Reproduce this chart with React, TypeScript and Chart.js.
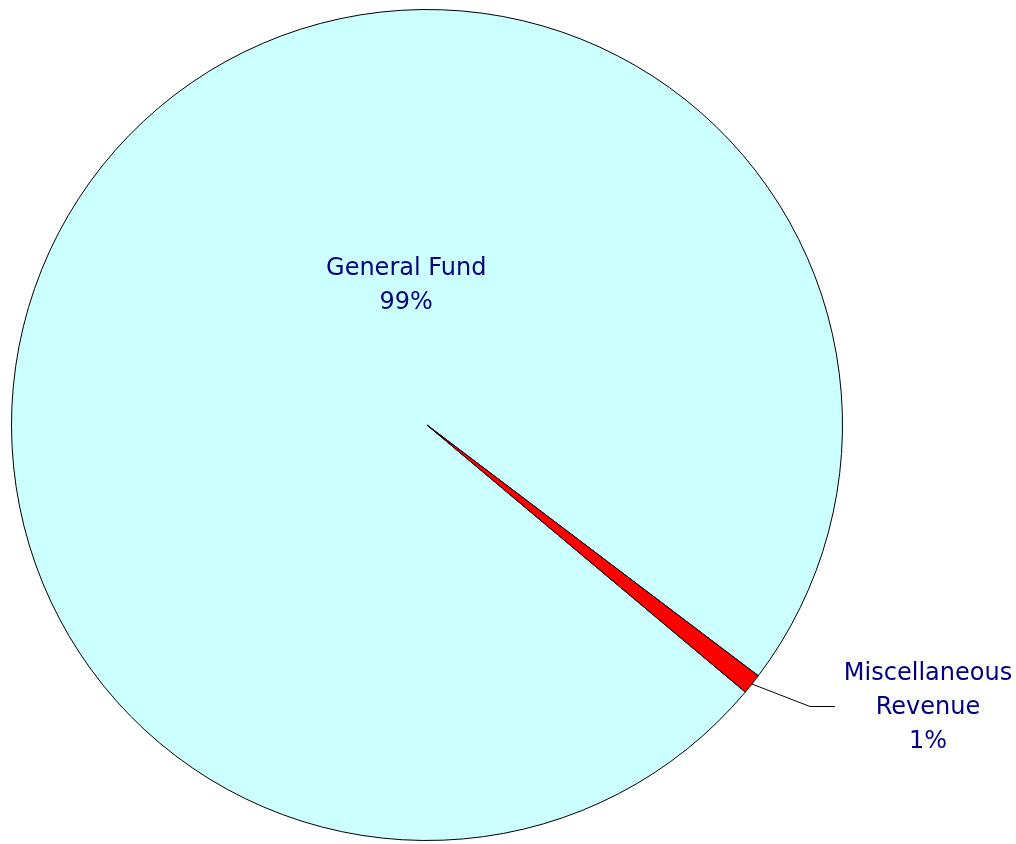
import React, { useEffect, useRef } from "react";
import { Chart, registerables } from "chart.js";

Chart.register(...registerables);

const categories = ["General Fund", "Miscellaneous Revenue"];
const shares = [99.2, 0.8];
const percentLabels = ["99%", "1%"];
const sliceColors = ["#CCFFFF", "#FF0000"];

const FONT = "24px 'DejaVu Sans'";
const TEXT_COLOR = "#000080";

const labelPlugin = {
  id: "pieLabels",
  afterDatasetsDraw(chart: any) {
    const ctx = chart.ctx;
    const meta = chart.getDatasetMeta(0);
    const arcs = meta.data;
    if (!arcs.length) return;
    const a0 = arcs[0];
    const cx = a0.x;
    const cy = a0.y;
    const r = a0.outerRadius;
    ctx.save();
    ctx.font = FONT;
    ctx.fillStyle = TEXT_COLOR;
    ctx.textAlign = "center";
    ctx.textBaseline = "middle";
    const lh = 34;

    // General Fund label inside the pie
    const gx = cx - r * 0.05;
    const gy = cy - r * 0.335;
    ctx.fillText(categories[0], gx, gy - lh / 2);
    ctx.fillText(percentLabels[0], gx, gy + lh / 2);

    // Miscellaneous Revenue label with leader line
    const a1 = arcs[1];
    const mid = (a1.startAngle + a1.endAngle) / 2;
    const sx = cx + Math.cos(mid) * r;
    const sy = cy + Math.sin(mid) * r;
    const ex = Math.round(sx + 58);
    const ey = Math.round(sy + 22) + 0.5;
    ctx.strokeStyle = "#000";
    ctx.lineWidth = 1;
    ctx.beginPath();
    ctx.moveTo(sx, sy);
    ctx.lineTo(ex, ey);
    ctx.lineTo(ex + 25, ey);
    ctx.stroke();
    const tx = ex + 118;
    const ty = ey + 1;
    ctx.fillText("Miscellaneous", tx, ty - lh);
    ctx.fillText("Revenue", tx, ty);
    ctx.fillText(percentLabels[1], tx, ty + lh);
    ctx.restore();
  },
};

export default function App() {
  const ref = useRef<HTMLCanvasElement | null>(null);
  useEffect(() => {
    if (!ref.current) return;
    const chart = new Chart(ref.current, {
      type: "pie",
      data: {
        labels: categories,
        datasets: [
          {
            data: shares,
            backgroundColor: sliceColors,
            borderColor: "#000000",
            borderWidth: 1,
            hoverOffset: 0,
            offset: 0,
          },
        ],
      },
      options: {
        responsive: false,
        animation: false,
        rotation: 130,
        layout: { padding: { left: 11, top: 9, right: 173, bottom: 3 } },
        plugins: {
          legend: { display: false },
          tooltip: { enabled: false },
        },
      },
      plugins: [labelPlugin],
    });
    return () => chart.destroy();
  }, []);
  return (
    <div style={{ position: "absolute", left: 0, top: 0, width: 1016, height: 844, background: "#fff" }}>
      <canvas ref={ref} width={1016} height={844} />
    </div>
  );
}
